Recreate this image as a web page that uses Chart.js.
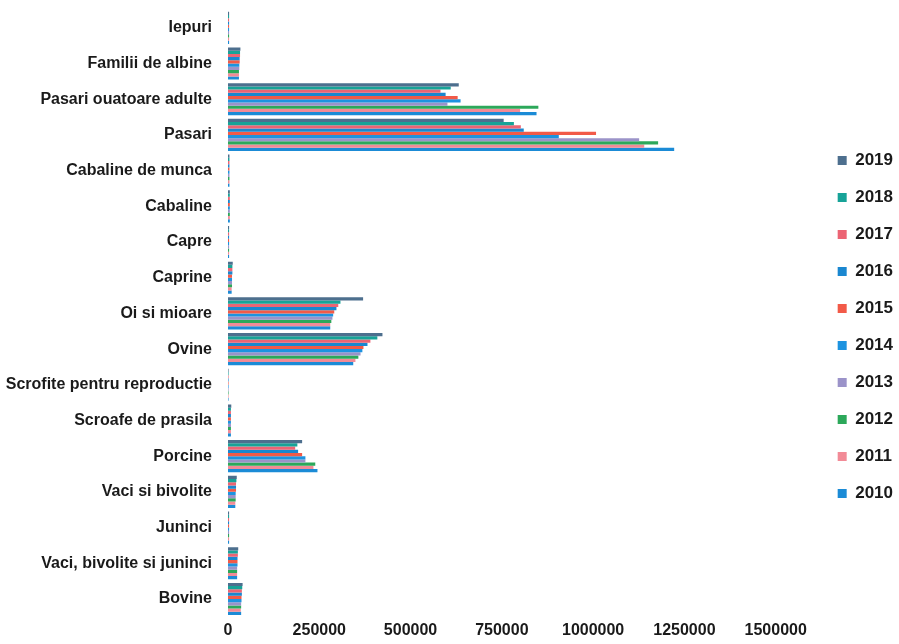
<!DOCTYPE html>
<html>
<head>
<meta charset="utf-8">
<script src="https://cdn.jsdelivr.net/npm/chart.js@4.4.1/dist/chart.umd.min.js"></script>
<style>
html,body{margin:0;padding:0;background:#fff;}
#c{display:block;}
</style>
</head>
<body>
<canvas id="c" width="899" height="644"></canvas>
<script>
const categories = ["Iepuri","Familii de albine","Pasari ouatoare adulte","Pasari","Cabaline de munca","Cabaline","Capre","Caprine","Oi si mioare","Ovine","Scrofite pentru reproductie","Scroafe de prasila","Porcine","Vaci si bivolite","Juninci","Vaci, bivolite si juninci","Bovine"];
const years = ["2019","2018","2017","2016","2015","2014","2013","2012","2011","2010"];
const xTicks = [0,250000,500000,750000,1000000,1250000,1500000];

const v2019 = [3000,34000,632000,755000,4000,5000,3000,13000,370000,423000,1500,9000,203000,24000,3000,28000,40000];
const v2018 = [3000,33000,610000,783000,4000,5000,3000,12000,308000,409000,1500,8000,190000,23000,3000,27000,39000];
const v2017 = [3000,33000,582000,802000,4000,5000,3000,12000,302000,390000,1500,8000,184000,22000,3000,27000,38000];
const v2016 = [3000,32000,596000,810000,4000,5000,3000,12000,297000,382000,1500,8000,192000,22000,3000,26000,38000];
const v2015 = [3000,32000,629000,1008000,4000,5000,3000,11000,291000,371000,1500,8000,203000,22000,3000,26000,37000];
const v2014 = [3000,31000,637000,906000,4000,5000,3000,11000,288000,368000,1500,8000,212000,21000,3000,26000,37000];
const v2013 = [3000,31000,601000,1126000,4000,5000,3000,11000,286000,363000,1500,8000,212000,21000,3000,25000,36000];
const v2012 = [3000,30000,850000,1178000,4000,5000,3000,11000,283000,357000,1500,8000,239000,21000,3000,25000,36000];
const v2011 = [3000,30000,800000,1140000,4000,5000,3000,10000,280000,349000,1500,8000,234000,20000,3000,25000,35000];
const v2010 = [3000,30000,845000,1222000,4000,5000,3000,10000,280000,343000,1500,8000,245000,20000,3000,25000,36000];

const seriesValues = [v2019,v2018,v2017,v2016,v2015,v2014,v2013,v2012,v2011,v2010];
const seriesColors = ["#4d6f8e","#17a398","#ec6474","#1a87d0","#f25a48","#1d93e0","#9b93c9","#2ca85a","#f28b97","#1b8bd6"];

const datasets = years.map((y,i)=>({
  label: y,
  data: seriesValues[i],
  backgroundColor: seriesColors[i],
  borderWidth: 0,
  categoryPercentage: 0.9,
  barPercentage: 1.0
}));

new Chart(document.getElementById('c'), {
  type: 'bar',
  data: { labels: categories, datasets: datasets },
  options: {
    indexAxis: 'y',
    responsive: false,
    animation: false,
    devicePixelRatio: 1,
    layout: { padding: { left: 6, right: -4, top: 10, bottom: 0 } },
    plugins: {
      tooltip: { enabled: false },
      legend: {
        position: 'right',
        align: 'center',
        labels: {
          boxWidth: 9,
          boxHeight: 9,
          padding: 20,
          color: '#1a1a1a',
          font: { family: 'Liberation Sans, Arial, sans-serif', size: 17, weight: 'bold' }
        }
      }
    },
    scales: {
      x: {
        min: 0,
        max: 1500000,
        afterBuildTicks: s => { s.ticks = xTicks.map(v => ({ value: v })); },
        grid: { display: false, drawTicks: false },
        border: { display: false },
        ticks: {
          color: '#1a1a1a',
          padding: 4,
          maxRotation: 0,
          autoSkip: false,
          font: { family: 'Liberation Sans, Arial, sans-serif', size: 16, weight: 'bold' },
          callback: v => String(v)
        }
      },
      y: {
        grid: { display: false, drawTicks: false },
        border: { display: false },
        afterFit: s => { s.width = 222; s.paddingTop = 0; s.paddingBottom = 0; },
        ticks: {
          color: '#1a1a1a',
          padding: 16,
          autoSkip: false,
          font: { family: 'Liberation Sans, Arial, sans-serif', size: 16, weight: 'bold' }
        }
      },
      yR: {
        position: 'right',
        display: true,
        grid: { display: false, drawTicks: false },
        border: { display: false },
        ticks: { display: false },
        afterFit: s => { s.width = 42; s.paddingTop = 0; s.paddingBottom = 0; }
      }
    }
  }
});
</script>
</body>
</html>
